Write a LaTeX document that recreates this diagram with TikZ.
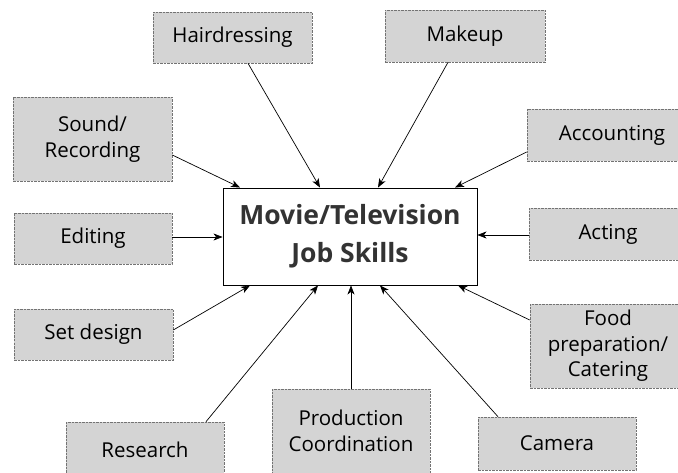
\documentclass[tikz,border=0pt]{standalone}
\usepackage{fontspec}
\setmainfont{Open Sans}
\usetikzlibrary{arrows.meta,calc}
\begin{document}
\begin{tikzpicture}[x=1pt,y=-1pt,
  skill/.style={draw=black!55, dash pattern=on 2.5pt off 1pt, line width=0.6pt, fill=black!17,
    minimum width=159pt, inner sep=0pt, font=\fontsize{20.5}{25.5}\selectfont, align=center, text=black},
  hub/.style={draw=black, line width=0.9pt, fill=white, minimum width=254pt, minimum height=97pt,
    inner sep=0pt, align=center, font=\fontsize{26.5}{38}\selectfont\bfseries, text=black!80},
  arr/.style={-{Stealth[length=9pt,width=7pt,inset=2.5pt]}, line width=0.7pt, black}]
\useasboundingbox (0,0) rectangle (678,473);
\clip (0,0) rectangle (678,473);
\fill[white] (0,0) rectangle (678,473);
% hub
\node[hub] (ctr) at (350,236.5) {Movie/Television\\Job Skills};
% skills
\node[skill, minimum height=51pt] (hair) at (232.5,37.5) {Hairdressing};
\node[skill, minimum height=52pt, minimum width=160pt] (make) at (465,36) {Makeup};
\node[skill, minimum height=84pt] (sound) at (92.5,139) {Sound/\\Recording};
\node[skill, minimum height=52pt, minimum width=170pt] (acc) at (612,135) {Accounting};
\node[skill, minimum height=51pt, minimum width=158pt] (edit) at (93,238.5) {Editing};
\node[skill, minimum height=52pt, minimum width=158pt] (act) at (608,234) {Acting};
\node[skill, minimum height=51pt] (set) at (93.5,334.5) {Set design};
\node[skill, minimum height=84pt, minimum width=156pt] (food) at (608,346) {Food\\preparation/\\Catering};
\node[skill, minimum height=56pt, minimum width=158pt] (res) at (145,450) {Research};
\node[skill, minimum height=84pt, minimum width=158pt] (prod) at (351,431) {Production\\Coordination};
\node[skill, minimum height=53pt, minimum width=158pt] (cam) at (557,443.5) {Camera};
% connectors
\draw[arr] (sound.east |- 0,155) -- (ctr.north -| 240,0);
\draw[arr] (hair.south -| 248,0) -- (ctr.north -| 320,0);
\draw[arr] (make.south -| 448,0) -- (ctr.north -| 378,0);
\draw[arr] (acc.west |- 0,152) -- (ctr.north -| 455,0);
\draw[arr] (edit.east |- 0,237) -- (ctr.west |- 0,237);
\draw[arr] (act.west |- 0,235) -- (ctr.east |- 0,235);
\draw[arr] (set.east |- 0,330) -- (ctr.south -| 250,0);
\draw[arr] (res.north -| 206,0) -- (ctr.south -| 318,0);
\draw[arr] (prod.north -| 351,0) -- (ctr.south -| 351,0);
\draw[arr] (cam.north -| 498,0) -- (ctr.south -| 380,0);
\draw[arr] (food.west |- 0,320) -- (ctr.south -| 458,0);
\end{tikzpicture}
\end{document}
